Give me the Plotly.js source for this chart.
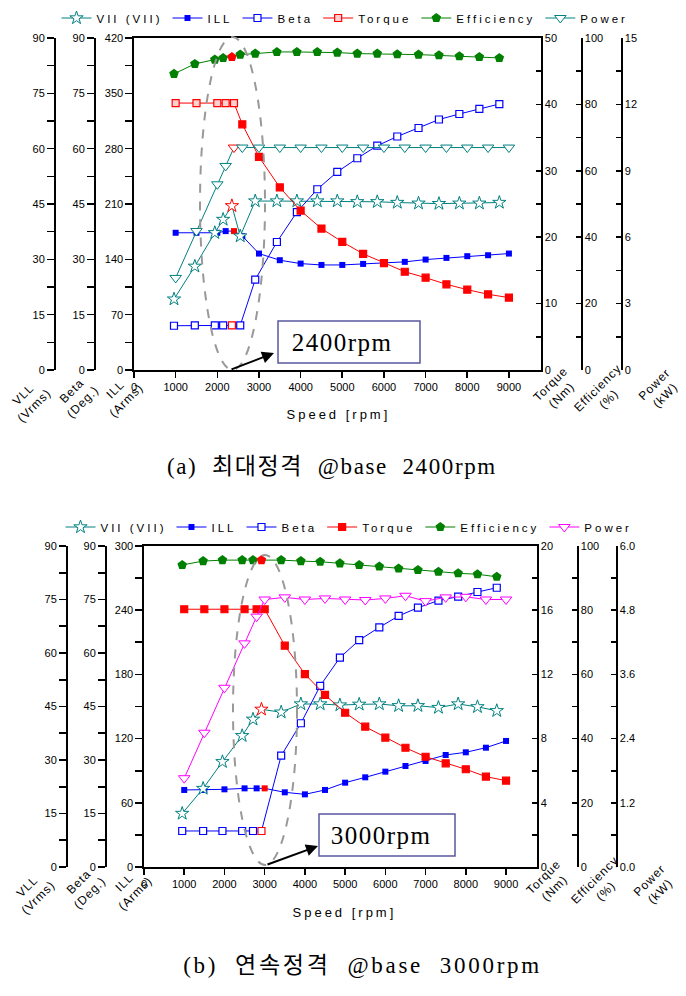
<!DOCTYPE html>
<html><head><meta charset="utf-8">
<script src="https://cdn.plot.ly/plotly-3.0.1.min.js"></script>
<style>
html,body{margin:0;padding:0;background:#fff}
#chart{width:686px;height:996px}
.legendtext, g[class*="legend"] text{letter-spacing:3px}
.annotation[data-index="0"] text,.annotation[data-index="1"] text{letter-spacing:1.5px}
.annotation[data-index="4"] text,.annotation[data-index="5"] text{letter-spacing:3px}
.annotation[data-index="6"] text{letter-spacing:1.6px}
.annotation[data-index="7"] text{letter-spacing:2.7px}
</style>
</head><body><div id="chart"></div>
<script>
// ---------------- DATA ----------------
// (a) 최대정격 @base 2400rpm
const baseTop = 2400;
const speedTopA = [1000,1500,2000,2200,2400,2600,3000,3500,4000,4500,5000,5500,6000,6500,7000,7500,8000,8500,9000];
const speedTopB = [960,1460,1940,2140,2350,2550,2910,3430,3910,4400,4880,5360,5840,6320,6830,7320,7810,8290,8770];
const vllTop    = [19.2,28.1,37.2,40.8,44.5,36.3,45.8,45.8,45.8,45.8,45.8,45.6,45.6,45.4,45.2,45.1,45.2,45.2,45.4];
const illTop    = [173.6,173.6,173.6,175.7,175.7,169.4,147.3,138.9,134.6,132.9,132.9,134.2,135.5,136.8,139.7,141.8,144.0,145.2,147.3];
const betaTop   = [12.0,12.1,12.1,12.1,12.1,12.1,24.5,34.7,42.8,49.0,53.7,57.4,60.8,63.3,65.6,67.9,69.4,70.8,72.1];
const torqueTop = [40.2,40.2,40.2,40.2,40.2,37.0,32.1,27.5,24.0,21.3,19.3,17.5,16.1,14.8,13.9,12.9,12.1,11.4,10.9];
const effTop    = [89.2,92.2,93.5,94.0,94.3,95.0,95.3,95.8,95.8,95.8,95.6,95.3,95.3,95.1,95.0,94.8,94.5,94.3,94.0];
const powerTop  = [4.16,6.28,8.39,9.22,10.05,10.05,10.05,10.05,10.05,10.05,10.05,10.05,10.05,10.05,10.05,10.05,10.05,10.05,10.05];

// (b) 연속정격 @base 3000rpm
const baseBot = 3000;
const speedBotA = [1000,1500,2000,2500,2800,3000,3500,4000,4500,5000,5500,6000,6500,7000,7500,8000,8500,9000];
const speedBotB = [950,1470,1950,2440,2710,2920,3410,3900,4380,4870,5350,5850,6330,6810,7320,7810,8290,8770];
const vllBot    = [15.0,22.0,29.5,36.8,41.4,44.2,43.4,45.7,45.7,45.4,45.6,45.7,45.2,45.2,44.7,45.7,44.9,43.8];
const illBot    = [72.0,72.0,72.6,73.5,73.5,73.5,69.8,67.9,72.0,78.8,83.8,89.1,94.4,99.1,104.7,107.2,111.5,117.8];
const betaBot   = [10.1,10.1,10.1,10.1,10.1,10.1,31.2,40.3,50.8,58.7,63.6,67.2,70.4,72.7,74.7,75.8,77.1,78.3];
const torqueBot = [16.06,16.06,16.06,16.06,16.06,16.06,13.79,12.02,10.72,9.61,8.74,8.06,7.43,6.87,6.46,6.09,5.63,5.38];
const effBot    = [94.1,95.3,95.6,95.6,95.6,95.6,95.6,95.3,95.1,94.6,94.1,93.6,93.0,92.5,92.0,91.5,91.2,90.4];
const powerBot  = [1.66,2.51,3.35,4.18,4.68,5.00,5.04,5.00,5.02,5.00,4.99,5.02,5.07,4.97,5.04,5.05,5.00,5.00];

const seriesNames = ['VII (VII)','ILL','Beta','Torque','Efficiency','Power'];
const axisLabels  = ['VLL<br>(Vrms)','Beta<br>(Deg.)','ILL<br>(Arms)','Torque<br>(Nm)','Efficiency<br>(%)','Power<br>(kW)'];
const captionTop = '(a)&nbsp; 최대정격&nbsp; @base&nbsp; 2400rpm';
const captionBot = '(b)&nbsp; 연속정격&nbsp; @base&nbsp; 3000rpm';
const boxTextTop = '2400rpm';
const boxTextBot = '3000rpm';
const xTitle = 'Speed [rpm]';

// ---------------- STYLE ----------------
const W = 686, H = 996;
const px = v => v / W;
const py = v => 1 - v / H;
const FONT = 'Arial, "Liberation Sans", sans-serif';
const SERIF = '"Liberation Serif", "DejaVu Serif", "Noto Sans CJK KR", serif';
const TEAL = '#008080', BLUE = '#0000ff', RED = '#ff0000', GREEN = '#008000', MAG = '#ff00ff';
const LW = 1.6;

function nearestIdx(xs, base) {
  let k = 0;
  xs.forEach((v, i) => { if (Math.abs(v - base) < Math.abs(xs[k] - base)) k = i; });
  return k;
}
function hl(xs, base, normal, hi) {
  const k = nearestIdx(xs, base);
  return xs.map((v, i) => i === k ? hi : normal);
}

function makeTraces(d) {
  const lg = d.legend;
  return [
    {name: seriesNames[0], x: d.sB, y: d.vll, xaxis: d.xa, yaxis: d.ax.vll, legend: lg, mode: 'lines+markers',
     line: {color: TEAL, width: 1},
     marker: {symbol: 'star', size: 10, color: '#fff', line: {color: hl(d.sB, d.base, TEAL, RED), width: 1}}},
    {name: seriesNames[1], x: d.sA, y: d.ill, xaxis: d.xa, yaxis: d.ax.ill, legend: lg, mode: 'lines+markers',
     line: {color: BLUE, width: 1},
     marker: {symbol: 'square', size: 6, color: hl(d.sA, d.base, BLUE, RED), line: {width: 0}}},
    {name: seriesNames[2], x: d.sB, y: d.beta, xaxis: d.xa, yaxis: d.ax.beta, legend: lg, mode: 'lines+markers',
     line: {color: BLUE, width: 1},
     marker: {symbol: 'square', size: 7, color: '#fff', line: {color: hl(d.sB, d.base, BLUE, RED), width: 1.2}}},
    {name: seriesNames[3], x: d.sA, y: d.torque, xaxis: d.xa, yaxis: d.ax.torque, legend: lg, mode: 'lines+markers',
     line: {color: RED, width: 1},
     marker: {symbol: 'square', size: 7,
              color: d.openTorque ? d.sA.map(v => v <= d.base ? '#ffd0d0' : RED) : RED,
              line: {color: RED, width: 1.2}}},
    {name: seriesNames[4], x: d.sB, y: d.eff, xaxis: d.xa, yaxis: d.ax.eff, legend: lg, mode: 'lines+markers',
     line: {color: GREEN, width: 1},
     marker: {symbol: 'pentagon', size: 10, color: hl(d.sB, d.base, GREEN, RED), line: {width: 0}}},
    {name: seriesNames[5], x: d.sA, y: d.power, xaxis: d.xa, yaxis: d.ax.power, legend: lg, mode: 'lines+markers',
     line: {color: d.pColor, width: 1},
     marker: {symbol: 'triangle-down', size: 10, color: '#fff', line: {color: hl(d.sA, d.base, d.pColor, d.pHi), width: 1}}}
  ];
}

const traces = [
  ...makeTraces({sA: speedTopA, sB: speedTopB, base: baseTop, vll: vllTop, ill: illTop, beta: betaTop, torque: torqueTop,
    eff: effTop, power: powerTop, xa: 'x', legend: 'legend', openTorque: true, pColor: TEAL, pHi: RED,
    ax: {ill: 'y', vll: 'y2', beta: 'y3', torque: 'y4', eff: 'y5', power: 'y6'}}),
  ...makeTraces({sA: speedBotA, sB: speedBotB, base: baseBot, vll: vllBot, ill: illBot, beta: betaBot, torque: torqueBot,
    eff: effBot, power: powerBot, xa: 'x2', legend: 'legend2', openTorque: false, pColor: MAG, pHi: MAG,
    ax: {ill: 'y7', vll: 'y8', beta: 'y9', torque: 'y10', eff: 'y11', power: 'y12'}})
];

const tickfont = {family: FONT, size: 11, color: '#000'};
// major + minor (half-step, unlabeled) ticks
function tickSet(range, dtick, fmt) {
  const vals = [], text = [];
  const n = Math.round((range[1] - range[0]) / (dtick / 2));
  for (let i = 0; i <= n; i++) {
    const v = +(range[0] + i * dtick / 2).toFixed(4);
    vals.push(v);
    text.push(i % 2 === 0 ? (fmt ? v.toFixed(fmt) : String(v)) : '');
  }
  return {tickmode: 'array', tickvals: vals, ticktext: text};
}
function leftAxis(range, dtick, extra, fmt) {
  return Object.assign({range, showline: true, linecolor: '#000', linewidth: LW,
    ticks: 'outside', ticklen: 7, tickwidth: LW, tickcolor: '#000', showgrid: false, zeroline: false,
    tickfont}, tickSet(range, dtick, fmt), extra);
}
function rightAxis(range, dtick, extra, fmt) {
  return Object.assign({range, side: 'right', showline: true, linecolor: '#000', linewidth: LW,
    ticks: 'inside', ticklen: 5, tickwidth: LW, tickcolor: '#000', showgrid: false, zeroline: false,
    tickfont}, tickSet(range, dtick, fmt), extra);
}
function xAxis(domain, anchor) {
  return {domain, anchor, range: [0, 9770], tick0: 0, dtick: 1000, showline: true, mirror: true,
    linecolor: '#000', linewidth: LW, ticks: 'outside', ticklen: 6, tickwidth: LW, tickcolor: '#000',
    showgrid: false, zeroline: false, tickfont};
}

const layout = {
  width: W, height: H, margin: {l: 0, r: 0, t: 0, b: 0},
  paper_bgcolor: '#fff', plot_bgcolor: 'rgba(0,0,0,0)',
  font: {family: FONT, size: 11, color: '#000'},
  xaxis: xAxis([px(134), px(541)], 'y'),
  xaxis2: xAxis([px(144), px(537)], 'y7'),
  yaxis: leftAxis([0, 420], 70, {domain: [py(370), py(38)], anchor: 'x'}),
  yaxis2: leftAxis([0, 90], 15, {overlaying: 'y', anchor: 'free', position: px(54)}),
  yaxis3: leftAxis([0, 90], 15, {overlaying: 'y', anchor: 'free', position: px(94)}),
  yaxis4: rightAxis([0, 50], 10, {overlaying: 'y', anchor: 'x'}),
  yaxis5: rightAxis([0, 100], 20, {overlaying: 'y', anchor: 'free', position: px(581)}),
  yaxis6: rightAxis([0, 15], 3, {overlaying: 'y', anchor: 'free', position: px(621)}),
  yaxis7: leftAxis([0, 300], 60, {domain: [py(867), py(546)], anchor: 'x2'}),
  yaxis8: leftAxis([0, 90], 15, {overlaying: 'y7', anchor: 'free', position: px(66)}),
  yaxis9: leftAxis([0, 90], 15, {overlaying: 'y7', anchor: 'free', position: px(105)}),
  yaxis10: rightAxis([0, 20], 4, {overlaying: 'y7', anchor: 'x2'}),
  yaxis11: rightAxis([0, 100], 20, {overlaying: 'y7', anchor: 'free', position: px(577)}),
  yaxis12: rightAxis([0, 6], 1.2, {overlaying: 'y7', anchor: 'free', position: px(616)}, 1),
  legend: {orientation: 'h', x: px(345), xanchor: 'center', y: py(18), yanchor: 'middle',
    font: {family: FONT, size: 11.5}, bgcolor: 'rgba(0,0,0,0)', itemwidth: 30},
  legend2: {orientation: 'h', x: px(349), xanchor: 'center', y: py(527), yanchor: 'middle',
    font: {family: FONT, size: 11.5}, bgcolor: 'rgba(0,0,0,0)', itemwidth: 30},
  shapes: [
    {type: 'circle', xref: 'paper', yref: 'paper', x0: px(200), x1: px(265), y0: py(370), y1: py(37),
     line: {color: '#999', width: 2, dash: 'dash'}},
    {type: 'rect', xref: 'paper', yref: 'paper', x0: px(278), x1: px(420), y0: py(363), y1: py(321),
     line: {color: '#5858a0', width: 1.5}, fillcolor: '#fff'},
    {type: 'circle', xref: 'paper', yref: 'paper', x0: px(233), x1: px(297), y0: py(865), y1: py(555),
     line: {color: '#999', width: 2, dash: 'dash'}},
    {type: 'rect', xref: 'paper', yref: 'paper', x0: px(319), x1: px(455), y0: py(856), y1: py(814),
     line: {color: '#5858a0', width: 1.5}, fillcolor: '#fff'}
  ],
  annotations: []
};

const A = layout.annotations;
function txt(text, x, y, font, extra) {
  A.push(Object.assign({text, xref: 'paper', yref: 'paper', x: px(x), y: py(y), xanchor: 'center', yanchor: 'middle',
    showarrow: false, font}, extra || {}));
}
// 0,1: box texts
txt(boxTextTop, 342, 342, {family: SERIF, size: 25, color: '#000'});
txt(boxTextBot, 381, 835, {family: SERIF, size: 25, color: '#000'});
// 2,3: arrows
A.push({text: '', xref: 'paper', yref: 'paper', x: px(274), y: py(353), ax: -44, ay: 17, showarrow: true,
  arrowhead: 2, arrowsize: 1.2, arrowwidth: 2, arrowcolor: '#000'});
A.push({text: '', xref: 'paper', yref: 'paper', x: px(318), y: py(846), ax: -52, ay: 19, showarrow: true,
  arrowhead: 2, arrowsize: 1.2, arrowwidth: 2, arrowcolor: '#000'});
// 4,5: x titles
txt(xTitle, 338, 414, {family: FONT, size: 13});
txt(xTitle, 344, 912, {family: FONT, size: 13});
// 6,7: captions
txt(captionTop, 332, 466, {family: SERIF, size: 23});
txt(captionBot, 362, 965, {family: SERIF, size: 23});
// 8..: rotated axis labels
const lblTop = [[29, 400], [77, 397], [121, 395], [556, 390], [603, 394], [660, 390]];
const lblBot = [[33, 892], [84, 888], [130, 888], [549, 883], [600, 886], [655, 886]];
axisLabels.forEach((t, i) => {
  txt(t, lblTop[i][0], lblTop[i][1], {family: FONT, size: 12}, {textangle: -45});
  txt(t, lblBot[i][0], lblBot[i][1], {family: FONT, size: 12}, {textangle: -45});
});

Plotly.newPlot('chart', traces, layout, {staticPlot: true, displayModeBar: false}).then(() => {
  document.querySelectorAll('.annotation').forEach(g => {
    const i = +g.getAttribute('data-index');
    if (i >= 8) g.querySelectorAll('text').forEach(t => t.style.letterSpacing = '1px');
  });
});
</script></body></html>
